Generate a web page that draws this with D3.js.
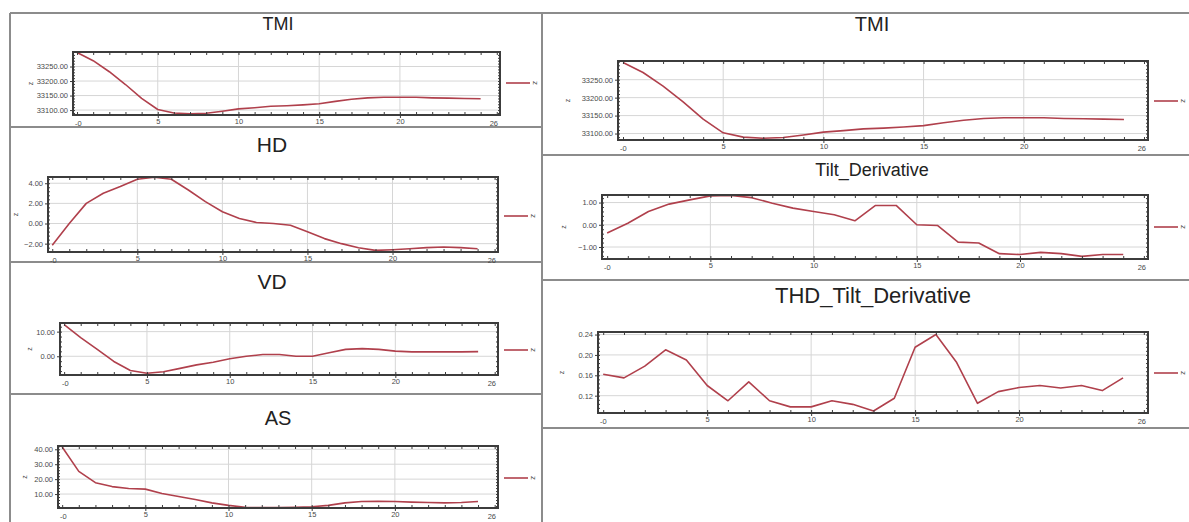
<!DOCTYPE html>
<html>
<head>
<meta charset="utf-8">
<script src="https://cdn.jsdelivr.net/npm/d3@7"></script>
<style>
body { margin: 0; background: #fff; }
svg { display: block; font-family: "Liberation Sans", Arial, sans-serif; }
</style>
</head>
<body>
<div id="chart"></div>
<script>
// profile distance (station index)
const distance = [0, 1, 2, 3, 4, 5, 6, 7, 8, 9, 10, 11, 12, 13, 14, 15, 16, 17, 18, 19, 20, 21, 22, 23, 24, 25]

const tmi = [33298, 33270, 33232, 33188, 33140, 33102, 33090, 33087, 33089, 33096, 33104, 33108, 33113,
             33115, 33118, 33122, 33130, 33137, 33142, 33144, 33144, 33144, 33142, 33141, 33140, 33139]
const hd = [-2.17, 0.0, 2.0, 3.0, 3.67, 4.4, 4.6, 4.4, 3.33, 2.17, 1.17, 0.5, 0.1,
            0.0, -0.17, -0.83, -1.5, -2.0, -2.4, -2.67, -2.6, -2.5, -2.4, -2.33, -2.4, -2.5]
const vd = [12.8, 7.6, 2.8, -2.1, -5.8, -6.9, -6.25, -4.9, -3.5, -2.4, -1.0, 0.0, 0.7,
            0.7, 0.0, 0.0, 1.4, 2.8, 3.1, 2.8, 2.1, 1.8, 1.8, 1.8, 1.8, 1.9]
const as = [41.5, 25.2, 17.6, 15.0, 13.7, 13.3, 10.4, 8.3, 6.3, 4.1, 2.4, 1.1, 0.9,
            0.9, 1.1, 1.5, 2.4, 4.1, 5.0, 5.2, 5.0, 4.6, 4.3, 4.1, 4.3, 5.0]
const tilt = [-0.37, 0.07, 0.6, 0.93, 1.12, 1.3, 1.32, 1.22, 0.97, 0.75, 0.6, 0.45, 0.18,
              0.87, 0.87, 0.0, -0.03, -0.78, -0.82, -1.3, -1.34, -1.24, -1.3, -1.42, -1.34, -1.34]
const thd = [0.162, 0.155, 0.178, 0.21, 0.19, 0.14, 0.11, 0.147, 0.11, 0.098, 0.098, 0.11, 0.103,
             0.09, 0.115, 0.215, 0.24, 0.185, 0.105, 0.128, 0.136, 0.14, 0.135, 0.14, 0.13, 0.155]

// axis ticks / labels
const xTicks = [5, 10, 15, 20]
const xEndLabels = ['-0', '26']
const tmiTicks = [33100, 33150, 33200, 33250]
const hdTicks = [-2, 0, 2, 4]
const vdTicks = [0, 10]
const asTicks = [10, 20, 30, 40]
const tiltTicks = [-1, 0, 1]
const thdTicks = [0.12, 0.16, 0.20, 0.24]
const legendLabel = 'z'

const W = 1189, H = 522
const xDomain = [-0.25, 26.2]
const colors = {
    frame: '#8c8c8c',
    box: '#3c3c3c',
    grid: '#d6d6d6',
    line: '#b0404c',
    text: '#4a4a4a'
}

const panels = [
    {title: 'TMI', fs: 18, tx: 278, ty: 24, box: [73, 500, 52, 115], ly: 83, zx: 30, values: tmi, ticks: tmiTicks, yDomain: [33083, 33300]},
    {title: 'HD', fs: 21, tx: 272, ty: 144, box: [48, 498, 177, 252], ly: 216, zx: 15, values: hd, ticks: hdTicks, yDomain: [-2.83, 4.62]},
    {title: 'VD', fs: 21, tx: 272, ty: 281, box: [60, 498, 323, 375], ly: 350, zx: 29, values: vd, ticks: vdTicks, yDomain: [-7.6, 13.5]},
    {title: 'AS', fs: 20, tx: 278, ty: 418, box: [58, 498, 446, 508], ly: 478, zx: 24, values: as, ticks: asTicks, yDomain: [0.65, 42.2]},
    {title: 'TMI', fs: 20, tx: 872, ty: 24, box: [618, 1148, 61, 140], ly: 101, zx: 567, values: tmi, ticks: tmiTicks, yDomain: [33082, 33302]},
    {title: 'Tilt_Derivative', fs: 18, tx: 872, ty: 170, box: [602, 1148, 195, 259], ly: 227, zx: 563, values: tilt, ticks: tiltTicks, yDomain: [-1.54, 1.34]},
    {title: 'THD_Tilt_Derivative', fs: 22, tx: 873, ty: 295, box: [598, 1148, 332, 413], ly: 373, zx: 561, values: thd, ticks: thdTicks, yDomain: [0.086, 0.245]}
]

const svg = d3.select('#chart').append('svg')
    .attr('width', W)
    .attr('height', H)

svg.append('rect')
    .attr('width', W)
    .attr('height', H)
    .attr('fill', '#fff')

// panel frames
const frame = svg.append('g')
    .attr('stroke', colors.frame)
    .attr('stroke-width', 2)
frame.append('line').attr('x1', 10).attr('x2', 10).attr('y1', 13).attr('y2', H)
frame.append('line').attr('x1', 542).attr('x2', 542).attr('y1', 13).attr('y2', H)
frame.append('line').attr('x1', 10).attr('x2', W).attr('y1', 13).attr('y2', 13)
;[127, 262, 394].forEach(y => {
    frame.append('line').attr('x1', 10).attr('x2', 542).attr('y1', y).attr('y2', y)
})
;[155, 280, 428].forEach(y => {
    frame.append('line').attr('x1', 542).attr('x2', W).attr('y1', y).attr('y2', y)
})

const fmt = d3.format('.2f')

panels.forEach(p => {
    const [x0, x1, y0, y1] = p.box
    const x = d3.scaleLinear().domain(xDomain).range([x0, x1])
    const y = d3.scaleLinear().domain(p.yDomain).range([y1, y0])
    const g = svg.append('g')

    g.append('text')
        .attr('x', p.tx)
        .attr('y', p.ty)
        .attr('text-anchor', 'middle')
        .attr('dominant-baseline', 'central')
        .attr('font-size', p.fs)
        .attr('fill', '#222')
        .text(p.title)

    // grid
    g.append('g').selectAll('line')
        .data(xTicks)
        .join('line')
        .attr('x1', d => x(d)).attr('x2', d => x(d))
        .attr('y1', y0).attr('y2', y1)
        .attr('stroke', colors.grid)
    g.append('g').selectAll('line')
        .data(p.ticks)
        .join('line')
        .attr('x1', x0).attr('x2', x1)
        .attr('y1', d => y(d)).attr('y2', d => y(d))
        .attr('stroke', colors.grid)

    // series
    const line = d3.line()
        .x((d, i) => x(distance[i]))
        .y(d => y(d))
    g.append('path')
        .datum(p.values)
        .attr('d', line)
        .attr('fill', 'none')
        .attr('stroke', colors.line)
        .attr('stroke-width', 1.6)
        .attr('stroke-linejoin', 'round')

    // box and minor ticks
    g.append('rect')
        .attr('x', x0).attr('y', y0)
        .attr('width', x1 - x0).attr('height', y1 - y0)
        .attr('fill', 'none')
        .attr('stroke', colors.box)
        .attr('stroke-width', 2)

    const minor = d3.range(0, 27)
    const step = p.ticks[1] - p.ticks[0]
    const yMinor = d3.range(p.ticks[0] - step, p.yDomain[1], step / 5).filter(v => v > p.yDomain[0])

    g.append('g')
        .attr('transform', `translate(0,${y1})`)
        .call(d3.axisTop(x).tickValues(minor).tickSize(3).tickFormat(''))
    g.append('g')
        .attr('transform', `translate(0,${y0})`)
        .call(d3.axisBottom(x).tickValues(minor).tickSize(3).tickFormat(''))
    g.append('g')
        .attr('transform', `translate(${x0},0)`)
        .call(d3.axisRight(y).tickValues(yMinor).tickSize(2).tickFormat(''))
    g.append('g')
        .attr('transform', `translate(${x1},0)`)
        .call(d3.axisLeft(y).tickValues(yMinor).tickSize(2).tickFormat(''))

    // labelled axes
    const xa = g.append('g')
        .attr('transform', `translate(0,${y1})`)
        .call(d3.axisBottom(x).tickValues(xTicks).tickSize(3).tickPadding(1))
    xa.append('text')
        .attr('x', x0 + 2).attr('y', 11)
        .attr('text-anchor', 'start')
        .text(xEndLabels[0])
    xa.append('text')
        .attr('x', x1 - 2).attr('y', 11)
        .attr('text-anchor', 'end')
        .text(xEndLabels[1])

    const ya = g.append('g')
        .attr('transform', `translate(${x0},0)`)
        .call(d3.axisLeft(y).tickValues(p.ticks).tickFormat(fmt).tickSize(3).tickPadding(2))

    ;[xa, ya].forEach(a => {
        a.select('.domain').remove()
        a.selectAll('text').attr('font-size', 7.5).attr('fill', colors.text)
        a.attr('font-family', null)
    })

    g.selectAll('.tick line').attr('stroke', colors.box)
    g.selectAll('.domain').remove()

    // y axis title
    g.append('text')
        .attr('transform', `translate(${p.zx},${(y0 + y1) / 2}) rotate(-90)`)
        .attr('text-anchor', 'middle')
        .attr('dominant-baseline', 'central')
        .attr('font-size', 7)
        .attr('fill', colors.text)
        .text(legendLabel)

    // legend
    g.append('line')
        .attr('x1', x1 + 6).attr('x2', x1 + 30)
        .attr('y1', p.ly).attr('y2', p.ly)
        .attr('stroke', colors.line)
        .attr('stroke-width', 1.6)
    g.append('text')
        .attr('transform', `translate(${x1 + 35},${p.ly}) rotate(90)`)
        .attr('text-anchor', 'middle')
        .attr('dominant-baseline', 'central')
        .attr('font-size', 8)
        .attr('fill', colors.text)
        .text(legendLabel)
})
</script>
</body>
</html>
